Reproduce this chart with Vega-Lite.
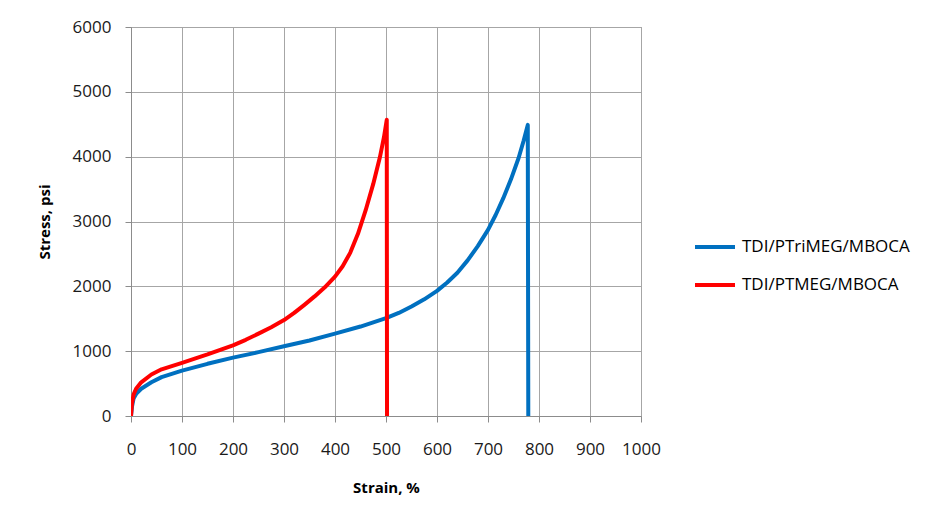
{
  "$schema": "https://vega.github.io/schema/vega-lite/v6.json",
  "width": 510,
  "height": 389,
  "autosize": {"type": "none"},
  "padding": {"left": 131, "top": 27, "right": 287, "bottom": 105},
  "background": "white",
  "config": {
    "font": "Open Sans",
    "view": {"stroke": "#8c8c8c", "strokeWidth": 1},
    "axis": {
      "gridColor": "#a6a6a6",
      "gridWidth": 1,
      "domainColor": "#8c8c8c",
      "tickColor": "#8c8c8c",
      "tickSize": 6,
      "labelFont": "Open Sans",
      "labelFontSize": 17,
      "labelColor": "#1a1a1a",
      "labelOverlap": false,
      "labelFlush": false,
      "titleFont": "Open Sans",
      "titleFontSize": 15,
      "titleFontWeight": "bold",
      "titleColor": "#000000"
    }
  },
  "data": {
    "values": [
      {"series": "TDI/PTriMEG/MBOCA", "i": 0, "strain": 0, "stress": 0},
      {"series": "TDI/PTriMEG/MBOCA", "i": 1, "strain": 2, "stress": 150},
      {"series": "TDI/PTriMEG/MBOCA", "i": 2, "strain": 5, "stress": 270},
      {"series": "TDI/PTriMEG/MBOCA", "i": 3, "strain": 10, "stress": 340},
      {"series": "TDI/PTriMEG/MBOCA", "i": 4, "strain": 20, "stress": 420},
      {"series": "TDI/PTriMEG/MBOCA", "i": 5, "strain": 40, "stress": 520},
      {"series": "TDI/PTriMEG/MBOCA", "i": 6, "strain": 60, "stress": 600},
      {"series": "TDI/PTriMEG/MBOCA", "i": 7, "strain": 100, "stress": 700},
      {"series": "TDI/PTriMEG/MBOCA", "i": 8, "strain": 150, "stress": 805},
      {"series": "TDI/PTriMEG/MBOCA", "i": 9, "strain": 200, "stress": 900},
      {"series": "TDI/PTriMEG/MBOCA", "i": 10, "strain": 250, "stress": 985},
      {"series": "TDI/PTriMEG/MBOCA", "i": 11, "strain": 300, "stress": 1075},
      {"series": "TDI/PTriMEG/MBOCA", "i": 12, "strain": 350, "stress": 1165},
      {"series": "TDI/PTriMEG/MBOCA", "i": 13, "strain": 400, "stress": 1270},
      {"series": "TDI/PTriMEG/MBOCA", "i": 14, "strain": 450, "stress": 1380},
      {"series": "TDI/PTriMEG/MBOCA", "i": 15, "strain": 500, "stress": 1510},
      {"series": "TDI/PTriMEG/MBOCA", "i": 16, "strain": 525, "stress": 1590},
      {"series": "TDI/PTriMEG/MBOCA", "i": 17, "strain": 550, "stress": 1690},
      {"series": "TDI/PTriMEG/MBOCA", "i": 18, "strain": 575, "stress": 1800},
      {"series": "TDI/PTriMEG/MBOCA", "i": 19, "strain": 600, "stress": 1930},
      {"series": "TDI/PTriMEG/MBOCA", "i": 20, "strain": 620, "stress": 2060},
      {"series": "TDI/PTriMEG/MBOCA", "i": 21, "strain": 640, "stress": 2210},
      {"series": "TDI/PTriMEG/MBOCA", "i": 22, "strain": 660, "stress": 2400},
      {"series": "TDI/PTriMEG/MBOCA", "i": 23, "strain": 680, "stress": 2620},
      {"series": "TDI/PTriMEG/MBOCA", "i": 24, "strain": 700, "stress": 2870},
      {"series": "TDI/PTriMEG/MBOCA", "i": 25, "strain": 715, "stress": 3100},
      {"series": "TDI/PTriMEG/MBOCA", "i": 26, "strain": 730, "stress": 3360},
      {"series": "TDI/PTriMEG/MBOCA", "i": 27, "strain": 745, "stress": 3650},
      {"series": "TDI/PTriMEG/MBOCA", "i": 28, "strain": 760, "stress": 3980},
      {"series": "TDI/PTriMEG/MBOCA", "i": 29, "strain": 770, "stress": 4250},
      {"series": "TDI/PTriMEG/MBOCA", "i": 30, "strain": 778, "stress": 4490},
      {"series": "TDI/PTriMEG/MBOCA", "i": 31, "strain": 779, "stress": 0},
      {"series": "TDI/PTMEG/MBOCA", "i": 0, "strain": 0, "stress": 0},
      {"series": "TDI/PTMEG/MBOCA", "i": 1, "strain": 2, "stress": 200},
      {"series": "TDI/PTMEG/MBOCA", "i": 2, "strain": 5, "stress": 330},
      {"series": "TDI/PTMEG/MBOCA", "i": 3, "strain": 10, "stress": 420},
      {"series": "TDI/PTMEG/MBOCA", "i": 4, "strain": 20, "stress": 520},
      {"series": "TDI/PTMEG/MBOCA", "i": 5, "strain": 40, "stress": 640},
      {"series": "TDI/PTMEG/MBOCA", "i": 6, "strain": 60, "stress": 720},
      {"series": "TDI/PTMEG/MBOCA", "i": 7, "strain": 100, "stress": 820},
      {"series": "TDI/PTMEG/MBOCA", "i": 8, "strain": 150, "stress": 950},
      {"series": "TDI/PTMEG/MBOCA", "i": 9, "strain": 200, "stress": 1090},
      {"series": "TDI/PTMEG/MBOCA", "i": 10, "strain": 225, "stress": 1175},
      {"series": "TDI/PTMEG/MBOCA", "i": 11, "strain": 250, "stress": 1270},
      {"series": "TDI/PTMEG/MBOCA", "i": 12, "strain": 275, "stress": 1370},
      {"series": "TDI/PTMEG/MBOCA", "i": 13, "strain": 300, "stress": 1480},
      {"series": "TDI/PTMEG/MBOCA", "i": 14, "strain": 320, "stress": 1590},
      {"series": "TDI/PTMEG/MBOCA", "i": 15, "strain": 340, "stress": 1715},
      {"series": "TDI/PTMEG/MBOCA", "i": 16, "strain": 360, "stress": 1845},
      {"series": "TDI/PTMEG/MBOCA", "i": 17, "strain": 380, "stress": 1985},
      {"series": "TDI/PTMEG/MBOCA", "i": 18, "strain": 400, "stress": 2150},
      {"series": "TDI/PTMEG/MBOCA", "i": 19, "strain": 415, "stress": 2310},
      {"series": "TDI/PTMEG/MBOCA", "i": 20, "strain": 430, "stress": 2520},
      {"series": "TDI/PTMEG/MBOCA", "i": 21, "strain": 445, "stress": 2810},
      {"series": "TDI/PTMEG/MBOCA", "i": 22, "strain": 460, "stress": 3170},
      {"series": "TDI/PTMEG/MBOCA", "i": 23, "strain": 475, "stress": 3580},
      {"series": "TDI/PTMEG/MBOCA", "i": 24, "strain": 488, "stress": 3990},
      {"series": "TDI/PTMEG/MBOCA", "i": 25, "strain": 496, "stress": 4300},
      {"series": "TDI/PTMEG/MBOCA", "i": 26, "strain": 501.5, "stress": 4570},
      {"series": "TDI/PTMEG/MBOCA", "i": 27, "strain": 502, "stress": 0}
    ]
  },
  "mark": {"type": "line", "strokeWidth": 4, "strokeJoin": "round", "strokeCap": "butt", "clip": true},
  "encoding": {
    "x": {
      "field": "strain",
      "type": "quantitative",
      "scale": {"domain": [0, 1000], "nice": false},
      "axis": {
        "values": [0, 100, 200, 300, 400, 500, 600, 700, 800, 900, 1000],
        "format": "d",
        "title": "Strain, %",
        "labelPadding": 19,
        "titlePadding": 23
      }
    },
    "y": {
      "field": "stress",
      "type": "quantitative",
      "scale": {"domain": [0, 6000], "nice": false},
      "axis": {
        "values": [0, 1000, 2000, 3000, 4000, 5000, 6000],
        "format": "d",
        "title": "Stress, psi",
        "labelPadding": 14,
        "titlePadding": 20
      }
    },
    "color": {
      "field": "series",
      "type": "nominal",
      "scale": {
        "domain": ["TDI/PTriMEG/MBOCA", "TDI/PTMEG/MBOCA"],
        "range": ["#0070c0", "#ff0000"]
      },
      "legend": {
        "title": null,
        "orient": "none",
        "legendX": 562,
        "legendY": 198,
        "symbolType": "stroke",
        "symbolSize": 1600,
        "symbolStrokeWidth": 4,
        "labelFont": "Open Sans",
        "labelFontSize": 17,
        "labelColor": "#000000",
        "labelOffset": 5,
        "labelLimit": 400,
        "rowPadding": 8
      }
    },
    "order": {"field": "i", "type": "quantitative"}
  }
}
